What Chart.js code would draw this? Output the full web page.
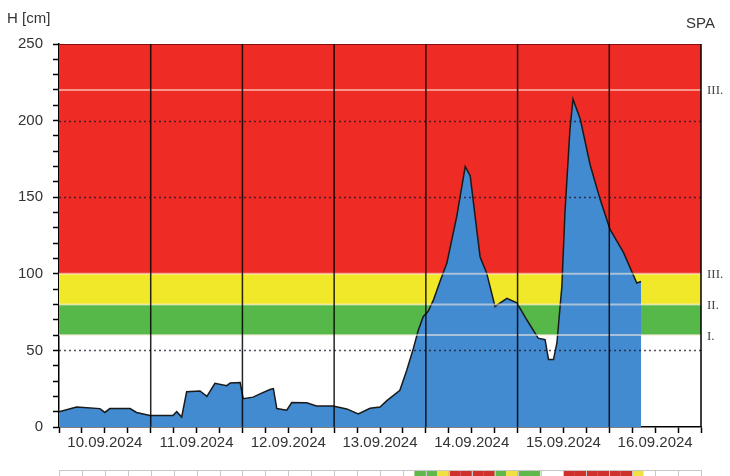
<!DOCTYPE html>
<html>
<head>
<meta charset="utf-8">
<script src="https://cdn.jsdelivr.net/npm/chart.js@4.4.1/dist/chart.umd.min.js"></script>
<style>
  body { margin: 0; background: #fff; }
  #wrap { width: 730px; height: 476px; }
</style>
</head>
<body>
<div id="wrap"><canvas id="level" width="730" height="476"></canvas></div>
<script>
// hours since 10.09.2024 00:00 and water level H [cm]
var hours = [0, 4.6, 10.7, 12, 13.3, 18.6, 20.3, 23.8, 29.8, 30.8, 32.1, 33.4, 36.9, 38.7, 40.8, 43.9, 44.8, 47.4,
  48.2, 50.8, 52.6, 55.2, 56.1, 57, 59.6, 60.9, 64.8, 67.4, 71.7, 75.3, 78.3, 81.4, 84, 85.8, 89.2, 91, 92.7,
  94, 95.3, 96.6, 98, 99.7, 101.5, 104.1, 106.3, 107.6, 109.3, 110.2, 111.9, 114.1, 117.2, 119.8, 122.4,
  125.4, 127.2, 128.1, 129.4, 130.3, 131.6, 132.4, 133.7, 134.5, 136.4, 139, 141.6, 144.2, 147.7, 151.2, 152.3];
var levels = [10, 13, 12, 9.5, 12, 12, 9.5, 7.5, 7.5, 10, 6.5, 23, 23.5, 20, 28.5, 27, 28.8, 29,
  18.5, 19.5, 21.6, 24.5, 25, 12, 11, 16, 15.8, 13.7, 13.7, 11.8, 8.5, 12.2, 13, 17.2, 24, 37, 51,
  63, 72, 75.5, 83, 95, 107, 137.6, 170, 164, 129, 111, 100.6, 78.7, 84, 81, 70,
  58, 57, 44, 44, 55, 92, 140, 194, 214, 201, 171, 148.6, 129, 114, 94, 95];

var dayLabels = ['10.09.2024', '11.09.2024', '12.09.2024', '13.09.2024', '14.09.2024', '15.09.2024', '16.09.2024'];

// flood stage bands
var bandLimits = [60, 80, 100, 250];
var bandColors = ['#55b848', '#f0e828', '#ee2b24'];
var stageLines = [60, 80, 100, 220];
var stageNames = ['I.', 'II.', 'III.', 'III.'];
var dottedLines = [50, 150, 200];

// status strip, one cell per 3 hours (0 none, 1 green, 2 yellow, 3 red)
var stripStatus = [0,0,0,0,0,0,0,0, 0,0,0,0,0,0,0,0, 0,0,0,0,0,0,0,0, 0,0,0,0,0,0,0,1,
  1,2,3,3,3,3,1,2, 1,1,0,0,3,3,3,3, 3,3,2,0,0,0,0,0];
var stripColors = ['#ffffff', '#5fb84a', '#f0e040', '#d0302c'];

var stagePlugin = {
  id: 'stages',
  beforeDatasetsDraw(chart) {
    var ctx = chart.ctx, a = chart.chartArea, y = chart.scales.y;
    ctx.save();
    for (var i = 0; i < bandColors.length; i++) {
      var top = y.getPixelForValue(bandLimits[i + 1]);
      var bot = y.getPixelForValue(bandLimits[i]);
      ctx.fillStyle = bandColors[i];
      ctx.fillRect(a.left, top, a.right - a.left, bot - top);
    }
    ctx.restore();
  },
  afterDatasetsDraw(chart) {
    var ctx = chart.ctx, a = chart.chartArea, x = chart.scales.x, y = chart.scales.y;
    ctx.save();
    // stage lines
    ctx.strokeStyle = 'rgba(255,240,225,0.55)';
    ctx.lineWidth = 2;
    stageLines.forEach(function (v) {
      var py = y.getPixelForValue(v);
      ctx.beginPath(); ctx.moveTo(a.left, py); ctx.lineTo(a.right, py); ctx.stroke();
    });
    // dotted grid
    ctx.strokeStyle = 'rgba(30,20,40,0.75)';
    ctx.lineWidth = 1.5;
    ctx.setLineDash([2, 3]);
    dottedLines.forEach(function (v) {
      var py = Math.round(y.getPixelForValue(v)) + 0.5;
      ctx.beginPath(); ctx.moveTo(a.left, py); ctx.lineTo(a.right, py); ctx.stroke();
    });
    ctx.setLineDash([]);
    // day separators
    ctx.strokeStyle = 'rgba(0,0,0,0.85)';
    ctx.lineWidth = 1.5;
    for (var d = 1; d < dayLabels.length; d++) {
      var px = x.getPixelForValue(d * 24);
      ctx.beginPath(); ctx.moveTo(px, a.top); ctx.lineTo(px, a.bottom); ctx.stroke();
    }
    // frame top / right
    ctx.lineWidth = 1;
    ctx.strokeStyle = 'rgba(60,0,0,0.6)';
    ctx.beginPath(); ctx.moveTo(a.left, a.top + 0.5); ctx.lineTo(a.right, a.top + 0.5); ctx.stroke();
    ctx.strokeStyle = '#000';
    ctx.lineWidth = 1.5;
    ctx.beginPath(); ctx.moveTo(a.right, a.top); ctx.lineTo(a.right, a.bottom); ctx.stroke();

    // texts
    ctx.fillStyle = '#333';
    ctx.font = '15px "Liberation Sans"';
    ctx.textBaseline = 'middle';
    ctx.textAlign = 'left';
    ctx.fillText('H [cm]', 7, 19);
    ctx.textAlign = 'right';
    ctx.fillText('SPA', 715, 24);
    ctx.font = '13px "Liberation Serif"';
    ctx.textAlign = 'left';
    ctx.fillStyle = '#444';
    stageLines.forEach(function (v, i) {
      ctx.fillText(stageNames[i], a.right + 6, y.getPixelForValue(v) + 1);
    });

    // status strip
    var sTop = 470;
    for (var i = 0; i < stripStatus.length; i++) {
      var x0 = x.getPixelForValue(i * 3), x1 = x.getPixelForValue(i * 3 + 3);
      ctx.fillStyle = stripColors[stripStatus[i]];
      ctx.fillRect(x0, sTop, x1 - x0, 10);
    }
    ctx.strokeStyle = '#c8c8c8';
    ctx.lineWidth = 1;
    ctx.beginPath();
    ctx.moveTo(a.left, sTop + 0.5); ctx.lineTo(a.right, sTop + 0.5);
    for (var h = 0; h <= 168; h += 6) {
      var gx = Math.round(x.getPixelForValue(h)) + 0.5;
      ctx.moveTo(gx, sTop); ctx.lineTo(gx, 476);
    }
    ctx.stroke();
    ctx.restore();
  }
};

var points = hours.map(function (h, i) { return { x: h, y: levels[i] }; });

var chart = new Chart(document.getElementById('level').getContext('2d'), {
  type: 'line',
  data: {
    datasets: [{
      label: 'H',
      data: points,
      borderColor: '#1a1a1a',
      borderWidth: 1.5,
      backgroundColor: '#428bd0',
      fill: 'origin',
      pointRadius: 0,
      tension: 0
    }]
  },
  options: {
    responsive: false,
    animation: false,
    layout: { padding: { left: 0, right: 29, top: 44, bottom: 27 } },
    plugins: { legend: { display: false }, tooltip: { enabled: false } },
    scales: {
      x: {
        type: 'linear',
        min: 0,
        max: 168,
        afterFit: function (s) { s.height = 22; },
        ticks: {
          stepSize: 6,
          maxTicksLimit: 100,
          autoSkip: false,
          maxRotation: 0,
          padding: 1,
          color: '#333',
          font: { family: 'Liberation Sans', size: 15 },
          callback: function (v) { return v % 24 === 12 ? dayLabels[(v - 12) / 24] : ''; }
        },
        grid: { drawOnChartArea: false, tickLength: 6, tickColor: '#000', tickWidth: 1.5 },
        border: { color: '#000', width: 1.5 }
      },
      y: {
        min: 0,
        max: 250,
        afterFit: function (s) { s.width = 59; },
        ticks: {
          stepSize: 10,
          maxTicksLimit: 100,
          autoSkip: false,
          padding: 10,
          color: '#333',
          font: { family: 'Liberation Sans', size: 15 },
          callback: function (v) { return v % 50 === 0 ? v : ''; }
        },
        grid: { drawOnChartArea: false, tickLength: 6, tickColor: '#000', tickWidth: 1.5 },
        border: { color: '#000', width: 1.5 }
      }
    }
  },
  plugins: [stagePlugin]
});
</script>
</body>
</html>
